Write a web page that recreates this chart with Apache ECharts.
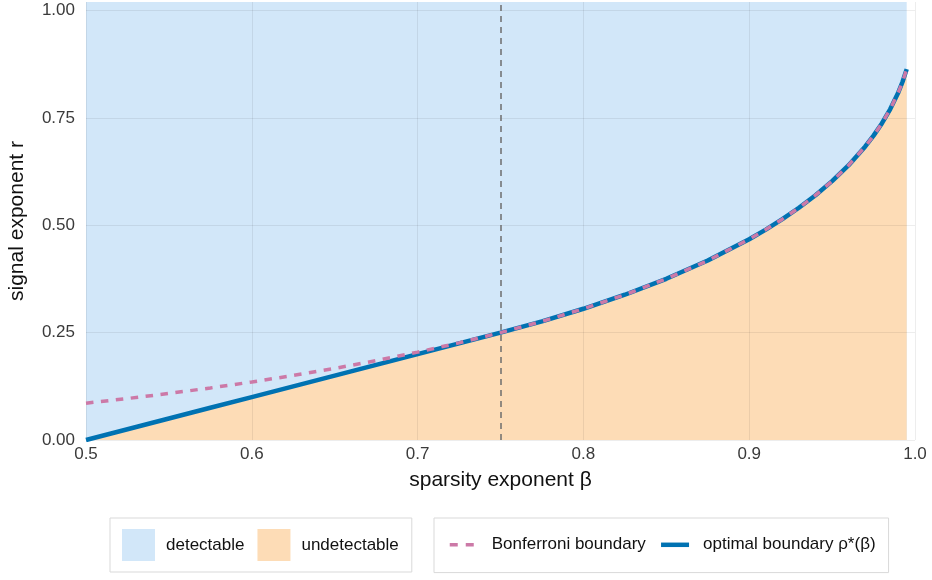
<!DOCTYPE html>
<html>
<head>
<meta charset="utf-8">
<title>Detection boundary</title>
<script src="https://cdn.jsdelivr.net/npm/echarts@6/dist/echarts.min.js"></script>
<style>
  html, body { margin: 0; padding: 0; background: #ffffff; }
  #chart { width: 932px; height: 580px; }
</style>
</head>
<body>
<div id="chart"></div>
<script>
// Sparsity exponent grid
const beta = [0.5, 0.525, 0.55, 0.575, 0.6, 0.625, 0.65, 0.675, 0.7, 0.725,
              0.75, 0.775, 0.8, 0.825, 0.85, 0.875, 0.9, 0.91, 0.92, 0.93,
              0.94, 0.95, 0.96, 0.97, 0.975, 0.98, 0.985, 0.99, 0.9925, 0.995];

// Bonferroni boundary r(beta)
const bonferroniR = [0.0858, 0.0966, 0.1084, 0.1212, 0.1351, 0.1503, 0.1668, 0.1848, 0.2046, 0.2262,
                     0.25, 0.2763, 0.3056, 0.3383, 0.3754, 0.4179, 0.4675, 0.49, 0.5143, 0.5409,
                     0.5701, 0.6028, 0.64, 0.6836, 0.7088, 0.7372, 0.7701, 0.81, 0.8343, 0.8636];

// Optimal detection boundary rho*(beta)
const optimalR = [0, 0.025, 0.05, 0.075, 0.1, 0.125, 0.15, 0.175, 0.2, 0.225,
                  0.25, 0.2763, 0.3056, 0.3383, 0.3754, 0.4179, 0.4675, 0.49, 0.5143, 0.5409,
                  0.5701, 0.6028, 0.64, 0.6836, 0.7088, 0.7372, 0.7701, 0.81, 0.8343, 0.8636];

// Regime change of the boundary
const regimeSplit = [0.75];

// Axis ranges and ticks
const xRange = [0.5, 1.0];
const yRange = [0, 1.02];
const xTickStep = 0.1;
const yTickStep = 0.25;

const FONT = '"Liberation Sans", Helvetica, Arial, sans-serif';
const BLUE_FILL = '#d2e7f9';
const ORANGE_FILL = '#fddcb6';
const BONF = '#cc79a7';
const OPT = '#0072b2';

const pairs = (ys) => beta.map((b, i) => [b, ys[i]]);
const topEdge = beta.map(b => [b, yRange[1]]);

const chart = echarts.init(document.getElementById('chart'), null, { renderer: 'canvas' });

const gridLine = { show: true, lineStyle: { color: 'rgba(0,0,0,0.07)', width: 1 } };
const legendText = { fontSize: 17, color: '#111', fontFamily: FONT };

chart.setOption({
  animation: false,
  backgroundColor: '#ffffff',
  textStyle: { fontFamily: FONT },
  grid: { left: 86, right: 17, top: 2, bottom: 140, containLabel: false, outerBoundsMode: 'none' },
  xAxis: {
    type: 'value',
    min: xRange[0], max: xRange[1], interval: xTickStep,
    z: 3,
    name: 'sparsity exponent β',
    nameLocation: 'middle',
    nameGap: 30,
    nameTextStyle: { fontSize: 21, color: '#111', fontFamily: FONT },
    axisLine: { show: false },
    axisTick: { show: false },
    axisLabel: { fontSize: 17, color: '#3a3a3a', margin: 6, fontFamily: FONT,
                 formatter: v => v.toFixed(1) },
    splitLine: gridLine
  },
  yAxis: {
    type: 'value',
    min: yRange[0], max: yRange[1], interval: yTickStep,
    z: 3,
    name: 'signal exponent r',
    nameLocation: 'middle',
    nameGap: 58,
    nameTextStyle: { fontSize: 21, color: '#111', fontFamily: FONT },
    axisLine: { show: false },
    axisTick: { show: false },
    axisLabel: { fontSize: 17, color: '#3a3a3a', margin: 11, fontFamily: FONT,
                 showMaxLabel: false, formatter: v => v.toFixed(2) },
    splitLine: Object.assign({ showMaxLine: false }, gridLine)
  },
  legend: [
    {
      left: 110, top: 518,
      orient: 'horizontal',
      padding: [11, 13, 11, 12],
      borderColor: '#d9d9d9', borderWidth: 1, borderRadius: 0,
      itemWidth: 33, itemHeight: 32, itemGap: 13,
      textStyle: Object.assign({ padding: [0, 0, 0, 6] }, legendText),
      data: [
        { name: 'detectable', icon: 'rect', itemStyle: { color: BLUE_FILL, borderWidth: 0 } },
        { name: 'undetectable', icon: 'rect', itemStyle: { color: ORANGE_FILL, borderWidth: 0 } }
      ]
    },
    {
      left: 434, top: 518,
      orient: 'horizontal',
      padding: [14, 13, 15, 14],
      borderColor: '#d9d9d9', borderWidth: 1, borderRadius: 0,
      itemWidth: 28, itemHeight: 32, itemGap: 13,
      textStyle: Object.assign({ padding: [0, 0, 0, 9] }, legendText),
      data: [
        { name: 'Bonferroni boundary',
          itemStyle: { opacity: 0 },
          lineStyle: { color: BONF, width: 3.5, type: [8, 8], cap: 'butt' } },
        { name: 'optimal boundary ρ*(β)',
          itemStyle: { opacity: 0 },
          lineStyle: { color: OPT, width: 4.5, type: 'solid', cap: 'butt' } }
      ]
    }
  ],
  series: [
    {
      name: 'detectable',
      type: 'line',
      z: 2,
      data: topEdge,
      showSymbol: false, symbol: 'none',
      color: BLUE_FILL,
      lineStyle: { width: 0 },
      areaStyle: { color: BLUE_FILL, opacity: 1, origin: 'start' },
      silent: true
    },
    {
      name: 'undetectable',
      type: 'line',
      z: 2,
      data: pairs(optimalR),
      showSymbol: false, symbol: 'none',
      color: ORANGE_FILL,
      lineStyle: { width: 0 },
      areaStyle: { color: ORANGE_FILL, opacity: 1, origin: 'start' },
      silent: true,
      markLine: {
        z: 4,
        silent: true,
        symbol: ['none', 'none'],
        label: { show: false },
        lineStyle: { color: '#6e6e6e', width: 1.5, type: [6, 5] },
        data: regimeSplit.map(v => ({ xAxis: v }))
      }
    },
    {
      name: 'optimal boundary ρ*(β)',
      type: 'line',
      z: 5,
      data: pairs(optimalR),
      showSymbol: false, symbol: 'none',
      color: OPT,
      lineStyle: { color: OPT, width: 4.5, cap: 'butt' }
    },
    {
      name: 'Bonferroni boundary',
      type: 'line',
      z: 6,
      data: pairs(bonferroniR),
      showSymbol: false, symbol: 'none',
      color: BONF,
      lineStyle: { color: BONF, width: 3.5, type: [7.5, 7.5], cap: 'butt' }
    }
  ]
});
</script>
</body>
</html>
